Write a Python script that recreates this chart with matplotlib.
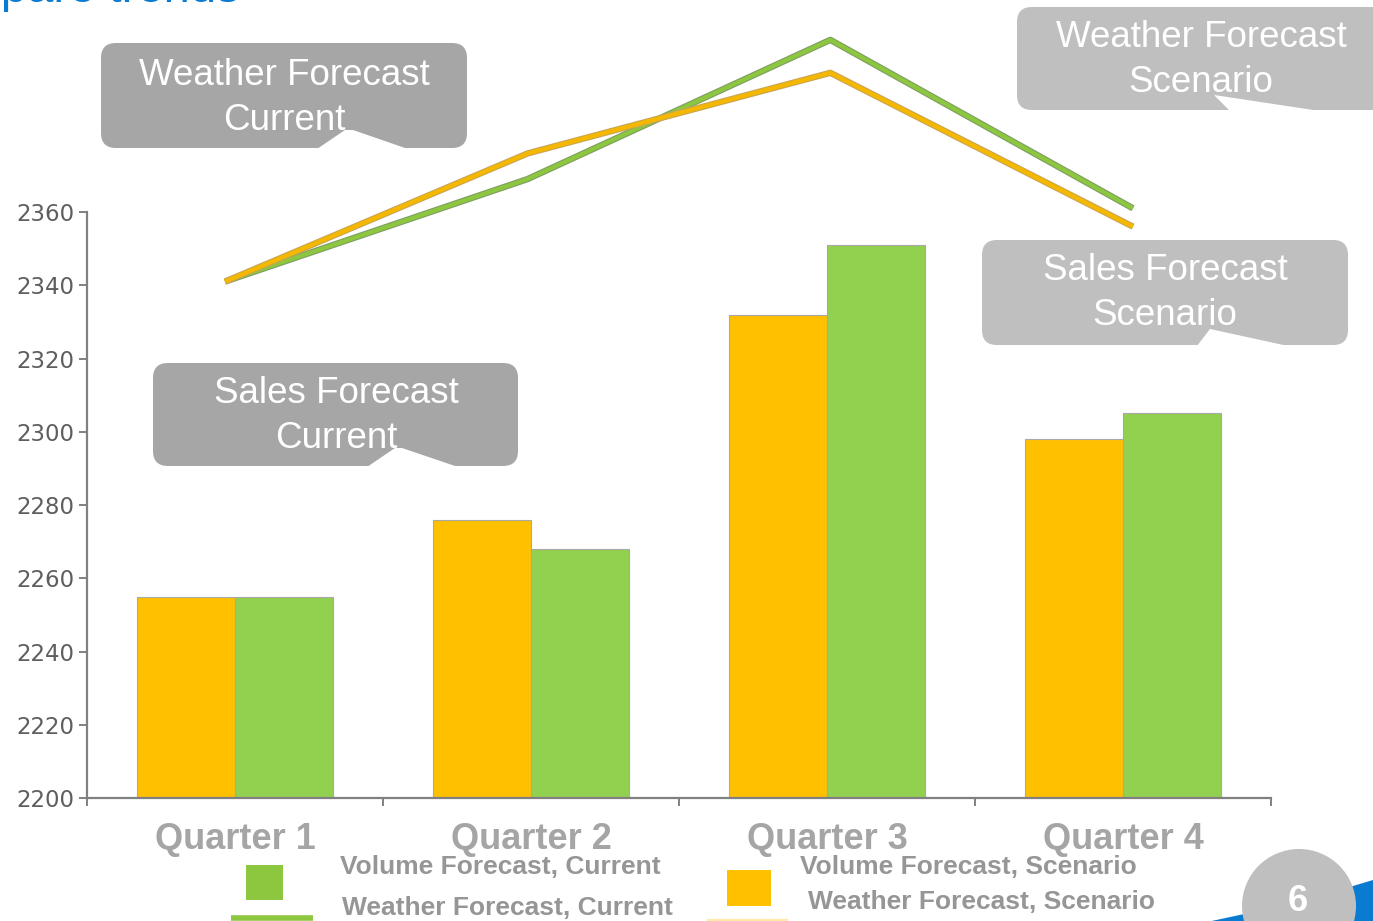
import matplotlib
matplotlib.use("Agg")
import matplotlib.pyplot as plt
import matplotlib.patheffects as pe
from matplotlib.patches import FancyBboxPatch, Polygon, Circle, Rectangle
import numpy as np

# ---------------- data ----------------
quarters = ["Quarter 1", "Quarter 2", "Quarter 3", "Quarter 4"]
volume_scenario = [2255, 2276, 2332, 2298]   # orange bars
volume_current = [2255, 2268, 2351, 2305]    # green bars
weather_scenario = [2341, 2376, 2398, 2356]  # orange line
weather_current = [2341, 2369, 2407, 2361]   # green line
yticks = [2200, 2220, 2240, 2260, 2280, 2300, 2320, 2340, 2360]

ORANGE = "#FFC000"
GREEN = "#92D050"
W, H = 1373, 921

fig = plt.figure(figsize=(W / 100, H / 100), dpi=100)
fig.patch.set_facecolor("white")

# main axes: left spine at x=87, right end at 1271, y 212..798
ax = fig.add_axes([87 / W, (H - 798) / H, (1271 - 87) / W, (798 - 212) / H])
x = np.arange(len(quarters))
bw = 0.331
ax.bar(x - bw / 2, np.array(volume_scenario) - 2200, bw, bottom=2200, color=ORANGE,
       edgecolor="#A8A8A8", linewidth=0.8, zorder=2)
ax.bar(x + bw / 2, np.array(volume_current) - 2200, bw, bottom=2200, color=GREEN,
       edgecolor="#A8A8A8", linewidth=0.8, zorder=2)
ax.set_xlim(-0.5, 3.5)
ax.set_ylim(2200, 2360)
ax.patch.set_visible(False)
for s in ["top", "right"]:
    ax.spines[s].set_visible(False)
for s in ["left", "bottom"]:
    ax.spines[s].set_color("#808080")
    ax.spines[s].set_linewidth(1.6)
ax.set_yticks(yticks)
ax.set_yticklabels([str(v) for v in yticks], family="DejaVu Sans", fontsize=16.5, color="#5E5E5E")
ax.tick_params(axis="y", direction="out", length=6, width=1.4, color="#808080", pad=3)
ax.set_xticks([-0.5, 0.5, 1.5, 2.5, 3.5])
ax.set_xticklabels([])
ax.tick_params(axis="x", which="major", direction="out", length=6, width=1.4, color="#808080")
ax.set_xticks(x, minor=True)
ax.set_xticklabels(quarters, minor=True, family="Liberation Sans", fontweight="bold",
                   fontsize=26, color="#A5A5A5")
ax.tick_params(axis="x", which="minor", length=0, pad=17)

# lines on a twin x axis (slightly wider spacing in the original)
ax2 = ax.twiny()
ax2.set_xlim(-0.456, 3.456)
ax2.axis("off")
ax2.plot(x, weather_current, color="#8DC63F", lw=3.0, clip_on=False, solid_capstyle="butt",
         path_effects=[pe.Stroke(linewidth=4.6, foreground="#7E9E62"), pe.Normal()], zorder=3)
ax2.plot(x, weather_scenario, color="#F5B800", lw=3.0, clip_on=False, solid_capstyle="butt",
         path_effects=[pe.Stroke(linewidth=4.6, foreground="#C9A552"), pe.Normal()], zorder=3)

# ---------------- overlay in pixel coordinates ----------------
ov = fig.add_axes([0, 0, 1, 1], zorder=5)
ov.set_xlim(0, W)
ov.set_ylim(H, 0)
ov.axis("off")

# title fragment at top (cut off at the top edge, as on the slide)
ov.text(240, 2, "Compare trends", ha="right", va="baseline", family="Liberation Sans",
        fontsize=34, color="#0A7BD0")

def callout(x0, y0, x1, y1, color, notch, text, cx, cy):
    ov.add_patch(FancyBboxPatch((x0, y0), x1 - x0, y1 - y0,
                                boxstyle="round,pad=0,rounding_size=15",
                                facecolor=color, edgecolor="none", zorder=1))
    ov.add_patch(Polygon(notch, closed=True, facecolor="white", edgecolor="none", zorder=2))
    ov.text(cx, cy, text, ha="center", va="center", family="Liberation Sans",
            fontsize=26.5, color="white", linespacing=1.35, zorder=3)

callout(101, 43, 467, 148, "#A6A6A6",
        [(317, 149), (345, 130), (353, 130), (408, 149)],
        "Weather Forecast\nCurrent", 284, 98)
callout(153, 363, 518, 466, "#A6A6A6",
        [(367, 467), (395, 448), (402, 448), (458, 467)],
        "Sales Forecast\nCurrent", 336, 416)
callout(1017, 7, 1400, 110, "#BFBFBF",
        [(1230, 111), (1214, 95), (1320, 111)],
        "Weather Forecast\nScenario", 1201, 60)
callout(982, 240, 1348, 345, "#BFBFBF",
        [(1197, 346), (1210, 329), (1288, 346)],
        "Sales Forecast\nScenario", 1165, 293)

# legend (manual layout as in the slide)
ov.add_patch(Rectangle((246, 865), 37, 35, facecolor="#8DC63F", edgecolor="none"))
ov.plot([231, 313], [918, 918], color="#8DC63F", lw=4, solid_capstyle="butt")
ov.add_patch(Rectangle((727, 870), 44, 36, facecolor=ORANGE, edgecolor="none"))
ov.plot([707, 788], [921, 921], color="#FFE9A6", lw=3, solid_capstyle="butt")
leg_kw = dict(family="Liberation Sans", fontweight="bold", fontsize=19, color="#969696",
              va="center", ha="left")
ov.text(340, 867, "Volume Forecast, Current", **leg_kw)
ov.text(342, 908, "Weather Forecast, Current", **leg_kw)
ov.text(800, 867, "Volume Forecast, Scenario", **leg_kw)
ov.text(808, 902, "Weather Forecast, Scenario", **leg_kw)

# bottom-right decoration: blue swoosh and page number
ov.add_patch(Polygon([(1207, 922), (1300, 902), (1373, 880), (1380, 880), (1380, 925), (1207, 925)],
                     closed=True, facecolor="#0A7BD0", edgecolor="none", zorder=1))
ov.add_patch(Circle((1299, 906), 57, facecolor="#BFBFBF", edgecolor="none", zorder=2))
ov.text(1298, 901, "6", ha="center", va="center", family="Liberation Sans", fontweight="bold",
        fontsize=26, color="white", zorder=3)

fig.savefig("out.png", dpi=100)
